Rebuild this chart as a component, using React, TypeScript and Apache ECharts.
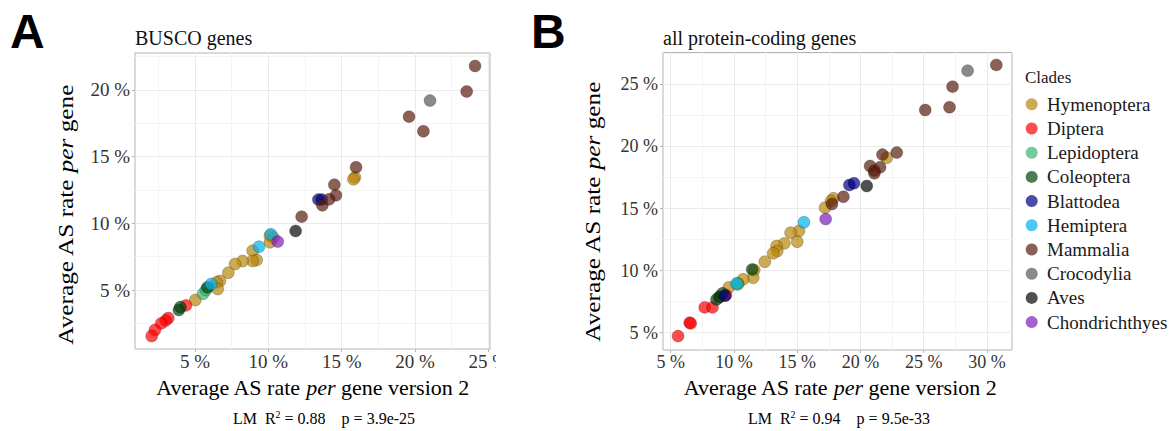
import React, { useEffect, useRef } from 'react';
import * as echarts from 'echarts';

const clades = ['Hymenoptera', 'Diptera', 'Lepidoptera', 'Coleoptera', 'Blattodea', 'Hemiptera', 'Mammalia', 'Crocodylia', 'Aves', 'Chondrichthyes'];
const cladeColors = ['#B8860B', '#FF0000', '#3CB371', '#01420F', '#000080', '#00B2EE', '#5A1C0E', '#585858', '#050505', '#7E1BBE'];

// Panel A: BUSCO genes  [version 2, original]
const buscoHymenoptera = [[15.9, 13.45], [15.8, 13.3], [10.11, 9.08], [10.34, 8.93], [10.11, 8.58], [8.93, 7.95], [9.2, 7.25], [8.93, 7.18], [8.25, 7.18], [7.73, 6.95], [7.27, 6.3], [6.7, 5.68], [6.48, 5.58], [6.55, 5.08], [5.02, 4.25]];
const buscoDiptera = [[4.38, 3.85], [3.18, 2.9], [3.0, 2.72], [2.7, 2.5], [2.27, 2.0], [2.05, 1.55]];
const buscoLepidoptera = [[5.55, 4.72], [5.75, 5.0]];
const buscoColeoptera = [[3.9, 3.5], [4.0, 3.72], [5.85, 5.2]];
const buscoBlattodea = [[13.41, 11.78], [13.64, 11.78]];
const buscoHemiptera = [[10.18, 9.18], [9.36, 8.25], [6.1, 5.45]];
const buscoMammalia = [[24.09, 21.8], [23.52, 19.88], [19.59, 18.0], [20.57, 16.9], [15.98, 14.2], [14.5, 12.9], [14.61, 12.1], [13.68, 11.35], [14.14, 11.8], [12.27, 10.5]];
const buscoCrocodylia = [[21.02, 19.2]];
const buscoAves = [[11.86, 9.43]];
const buscoChondrichthyes = [[10.64, 8.63]];

// Panel B: all protein-coding genes
const allHymenoptera = [[22.08, 19.09], [17.86, 15.82], [17.67, 15.6], [17.2, 15.07], [15.14, 13.19], [14.48, 13.05], [15.0, 12.33], [13.98, 12.19], [13.37, 11.98], [13.42, 11.58], [13.1, 11.39], [12.44, 10.72], [11.6, 10.05], [11.52, 9.43], [10.73, 9.3], [10.33, 8.97], [9.59, 8.65]];
const allDiptera = [[5.58, 4.73], [6.5, 5.81], [6.58, 5.75], [7.69, 7.04], [8.3, 7.04], [8.88, 7.9], [9.36, 8.03]];
const allLepidoptera = [[10.3, 8.89]];
const allColeoptera = [[11.44, 10.1], [8.83, 7.85], [8.62, 7.68], [9.09, 8.17]];
const allBlattodea = [[19.12, 16.89], [19.49, 17.03], [9.3, 7.98]];
const allHemiptera = [[15.53, 13.89], [10.2, 8.97]];
const allMammalia = [[30.74, 26.56], [27.28, 24.81], [27.04, 23.15], [25.12, 22.93], [22.87, 19.5], [21.74, 19.34], [20.76, 18.42], [21.55, 18.32], [21.1, 18.05], [21.1, 17.83], [18.65, 15.95], [17.75, 15.36]];
const allCrocodylia = [[28.47, 26.1]];
const allAves = [[20.5, 16.81]];
const allChondrichthyes = [[17.25, 14.15]];

const xTicksA = [5, 10, 15, 20, 25];
const yTicksA = [5, 10, 15, 20];
const xMinorA = [2.5, 7.5, 12.5, 17.5, 22.5];
const yMinorA = [2.5, 7.5, 12.5, 17.5, 22.5];
const xTicksB = [5, 10, 15, 20, 25, 30];
const yTicksB = [5, 10, 15, 20, 25];
const xMinorB = [7.5, 12.5, 17.5, 22.5, 27.5];
const yMinorB = [7.5, 12.5, 17.5, 22.5, 27.5];

const panelA = [buscoHymenoptera, buscoDiptera, buscoLepidoptera, buscoColeoptera, buscoBlattodea, buscoHemiptera, buscoMammalia, buscoCrocodylia, buscoAves, buscoChondrichthyes];
const panelB = [allHymenoptera, allDiptera, allLepidoptera, allColeoptera, allBlattodea, allHemiptera, allMammalia, allCrocodylia, allAves, allChondrichthyes];

const SERIF = 'Liberation Serif';

function mainAxis(gridIndex: number, min: number, max: number, ticks: number[], fontSize: number, isX: boolean) {
  return {
    type: 'value', gridIndex, min, max,
    position: isX ? 'bottom' : 'left',
    axisLine: { show: false },
    axisTick: { show: true, length: 3, lineStyle: { color: '#b3b3b3', width: 1 }, customValues: ticks },
    axisLabel: { customValues: ticks, formatter: '{value} %', fontSize, fontFamily: SERIF, color: '#333333', margin: isX ? 3 : 5 },
    splitLine: { show: true, lineStyle: { color: '#ebebeb', width: 1 } },
  };
}
function minorAxis(gridIndex: number, min: number, max: number, ticks: number[], isX: boolean) {
  return {
    type: 'value', gridIndex, min, max,
    position: isX ? 'bottom' : 'left',
    axisLine: { show: false },
    axisTick: { show: false, customValues: ticks },
    axisLabel: { show: false, customValues: ticks },
    splitLine: { show: true, lineStyle: { color: '#f4f4f4', width: 1 } },
  };
}

const richTitle = (size: number) => ({
  i: { fontStyle: 'italic', fontSize: size, fontFamily: SERIF, fill: '#000' },
  n: { fontSize: size, fontFamily: SERIF, fill: '#000' },
});
const richLM = {
  n: { fontSize: 16, fontFamily: SERIF, fill: '#000' },
  s: { fontSize: 10, fontFamily: SERIF, fill: '#000', padding: [0, 0, 7, 0] },
};

export default function App() {
  const ref = useRef<HTMLDivElement>(null);
  useEffect(() => {
    document.body.style.margin = '0';
    const chart = echarts.init(ref.current as HTMLDivElement, null, { renderer: 'svg' });
    const series: any[] = [];
    [panelA, panelB].forEach((panel, p) => {
      panel.forEach((data, c) => {
        series.push({
          type: 'scatter', name: clades[c], xAxisIndex: p, yAxisIndex: p, data,
          symbol: 'circle', symbolSize: 12,
          itemStyle: { color: cladeColors[c], opacity: 0.7, borderColor: 'rgba(0,0,0,0.5)', borderWidth: 0.6 },
          emphasis: { disabled: true },
        });
      });
    });
    const legendItems: any[] = [];
    clades.forEach((name, i) => {
      const cy = 104.3 + i * 24.2;
      legendItems.push({ type: 'circle', shape: { cx: 1031.7, cy, r: 6 }, style: { fill: cladeColors[i], opacity: 0.7 } });
      legendItems.push({ type: 'text', x: 1047, y: cy, style: { text: name, font: '19px "Liberation Serif"', fill: '#1a1a1a', align: 'left', verticalAlign: 'middle' } });
    });
    const option: any = {
      animation: false,
      textStyle: { fontFamily: SERIF },
      grid: [
        { left: 135, top: 53, width: 355, height: 296, show: true, borderColor: '#b3b3b3', borderWidth: 1, backgroundColor: '#fff', containLabel: false, outerBoundsMode: 'none' },
        { left: 663, top: 52.5, width: 349, height: 297.5, show: true, borderColor: '#b3b3b3', borderWidth: 1, backgroundColor: '#fff', containLabel: false, outerBoundsMode: 'none' },
      ],
      xAxis: [
        mainAxis(0, 0.91, 25.11, xTicksA, 19, true),
        mainAxis(1, 4.39, 31.98, xTicksB, 18, true),
        minorAxis(0, 0.91, 25.11, xMinorA, true),
        minorAxis(1, 4.39, 31.98, xMinorB, true),
      ],
      yAxis: [
        mainAxis(0, 0.58, 22.77, yTicksA, 19, false),
        mainAxis(1, 3.61, 27.56, yTicksB, 18, false),
        minorAxis(0, 0.58, 22.77, yMinorA, false),
        minorAxis(1, 3.61, 27.56, yMinorB, false),
      ],
      series,
      graphic: [
        { type: 'text', x: 10, y: 31, style: { text: 'A', font: 'bold 48px "Liberation Sans"', fill: '#000', align: 'left', verticalAlign: 'middle' } },
        { type: 'text', x: 531, y: 31, style: { text: 'B', font: 'bold 48px "Liberation Sans"', fill: '#000', align: 'left', verticalAlign: 'middle' } },
        { type: 'text', x: 135, y: 38, style: { text: 'BUSCO genes', font: '20px "Liberation Serif"', fill: '#111', align: 'left', verticalAlign: 'middle' } },
        { type: 'text', x: 663, y: 38, style: { text: 'all protein-coding genes', font: '20px "Liberation Serif"', fill: '#111', align: 'left', verticalAlign: 'middle' } },
        { type: 'text', x: 66, y: 215, rotation: Math.PI / 2, scaleX: 1.15, style: { text: '{n|Average AS rate }{i|per}{n| gene}', rich: richTitle(22), fontSize: 22, fontFamily: SERIF, align: 'center', verticalAlign: 'middle' } },
        { type: 'text', x: 593, y: 212, rotation: Math.PI / 2, scaleX: 1.15, style: { text: '{n|Average AS rate }{i|per}{n| gene}', rich: richTitle(22), fontSize: 22, fontFamily: SERIF, align: 'center', verticalAlign: 'middle' } },
        { type: 'text', x: 312.5, y: 387, style: { text: '{n|Average AS rate }{i|per}{n| gene version 2}', rich: richTitle(22), fontSize: 22, fontFamily: SERIF, align: 'center', verticalAlign: 'middle' } },
        { type: 'text', x: 840, y: 387, style: { text: '{n|Average AS rate }{i|per}{n| gene version 2}', rich: richTitle(22), fontSize: 22, fontFamily: SERIF, align: 'center', verticalAlign: 'middle' } },
        { type: 'text', x: 324, y: 418, style: { text: '{n|LM  R}{s|2}{n| = 0.88    p = 3.9e-25}', rich: richLM, fontSize: 16, fontFamily: SERIF, align: 'center', verticalAlign: 'middle' } },
        { type: 'text', x: 839, y: 418, style: { text: '{n|LM  R}{s|2}{n| = 0.94    p = 9.5e-33}', rich: richLM, fontSize: 16, fontFamily: SERIF, align: 'center', verticalAlign: 'middle' } },
        { type: 'text', x: 1025, y: 77, style: { text: 'Clades', font: '17px "Liberation Serif"', fill: '#1a1a1a', align: 'left', verticalAlign: 'middle' } },
        { type: 'rect', z: 100, shape: { x: 496, y: 351, width: 40, height: 22 }, style: { fill: '#ffffff' } },
        ...legendItems,
      ],
    };
    chart.setOption(option);
    return () => chart.dispose();
  }, []);
  return <div ref={ref} style={{ width: 1176, height: 431 }} />;
}
